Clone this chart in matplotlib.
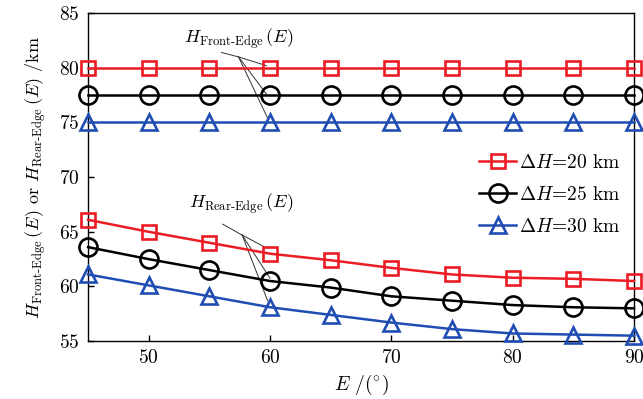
import matplotlib
matplotlib.use('Agg')
import matplotlib.pyplot as plt

plt.rcParams['font.family'] = ['cmr10', 'DejaVu Serif']
plt.rcParams['mathtext.fontset'] = 'cm'
plt.rcParams['axes.formatter.use_mathtext'] = True

# elevation angle (deg)
E = [45, 50, 55, 60, 65, 70, 75, 80, 85, 90]

# front-edge heights (km), constant with E
front_20 = [80.0] * 10
front_25 = [77.5] * 10
front_30 = [75.0] * 10

# rear-edge heights (km)
rear_20 = [66.1, 65.0, 64.0, 63.0, 62.4, 61.7, 61.1, 60.8, 60.7, 60.5]
rear_25 = [63.6, 62.5, 61.5, 60.5, 59.9, 59.1, 58.7, 58.3, 58.1, 58.0]
rear_30 = [61.1, 60.1, 59.1, 58.1, 57.4, 56.7, 56.1, 55.7, 55.6, 55.5]

labels = [r'$\Delta H$=20 km', r'$\Delta H$=25 km', r'$\Delta H$=30 km']
colors = ['#ec1c24', 'black', '#1f4db3']
markers = ['s', 'o', '^']
msizes = [10, 13, 11]

fig = plt.figure(figsize=(6.43, 3.99), dpi=100)
ax = fig.add_axes([0.137, 0.145, 0.849, 0.822])

for front, rear, c, m, ms, lab in zip([front_20, front_25, front_30],
                                      [rear_20, rear_25, rear_30],
                                      colors, markers, msizes, labels):
    kw = dict(color=c, marker=m, markersize=ms, markerfacecolor='none',
              markeredgewidth=1.9, linewidth=1.8, clip_on=False, zorder=3)
    ax.plot(E, front, label=lab, **kw)
    ax.plot(E, rear, **kw)

ax.set_xlim(45, 90)
ax.set_ylim(55, 85)
ax.set_xticks([50, 60, 70, 80, 90])
ax.set_yticks([55, 60, 65, 70, 75, 80, 85])
ax.tick_params(direction='in', length=4, width=1, labelsize=14, pad=6)
for s in ax.spines.values():
    s.set_linewidth(1.0)

ax.set_xlabel(r'$E$ /$(^{\circ})$', fontsize=14, labelpad=4)
ax.set_ylabel(r'$H_{\text{Front-Edge}}\,(E)$ or $H_{\text{Rear-Edge}}\,(E)$ /km',
              fontsize=13, labelpad=8)

# leader lines for the two curve groups
ax.text(57.4, 82.7, r'$H_{\text{Front-Edge}}\,(E)$', fontsize=13, ha='center', va='center')
ax.plot([56.0, 57.4], [81.4, 81.0], color='#333333', lw=0.7)
for x1, y1 in [(59.7, 80.2), (59.7, 77.6), (59.8, 75.4)]:
    ax.plot([57.4, x1], [81.0, y1], color='#333333', lw=0.7)

ax.text(57.6, 67.6, r'$H_{\text{Rear-Edge}}\,(E)$', fontsize=13, ha='center', va='center')
ax.plot([56.1, 57.7], [65.7, 64.7], color='#333333', lw=0.7)
for x1, y1 in [(59.75, 63.5), (60.0, 60.75), (59.8, 58.7)]:
    ax.plot([57.7, x1], [64.7, y1], color='#333333', lw=0.7)

ax.legend(loc='upper right', bbox_to_anchor=(0.99, 0.595), frameon=False,
          fontsize=14, handlelength=1.9, handletextpad=0.15, labelspacing=0.72,
          borderaxespad=0)

fig.savefig('out.png', dpi=100)
